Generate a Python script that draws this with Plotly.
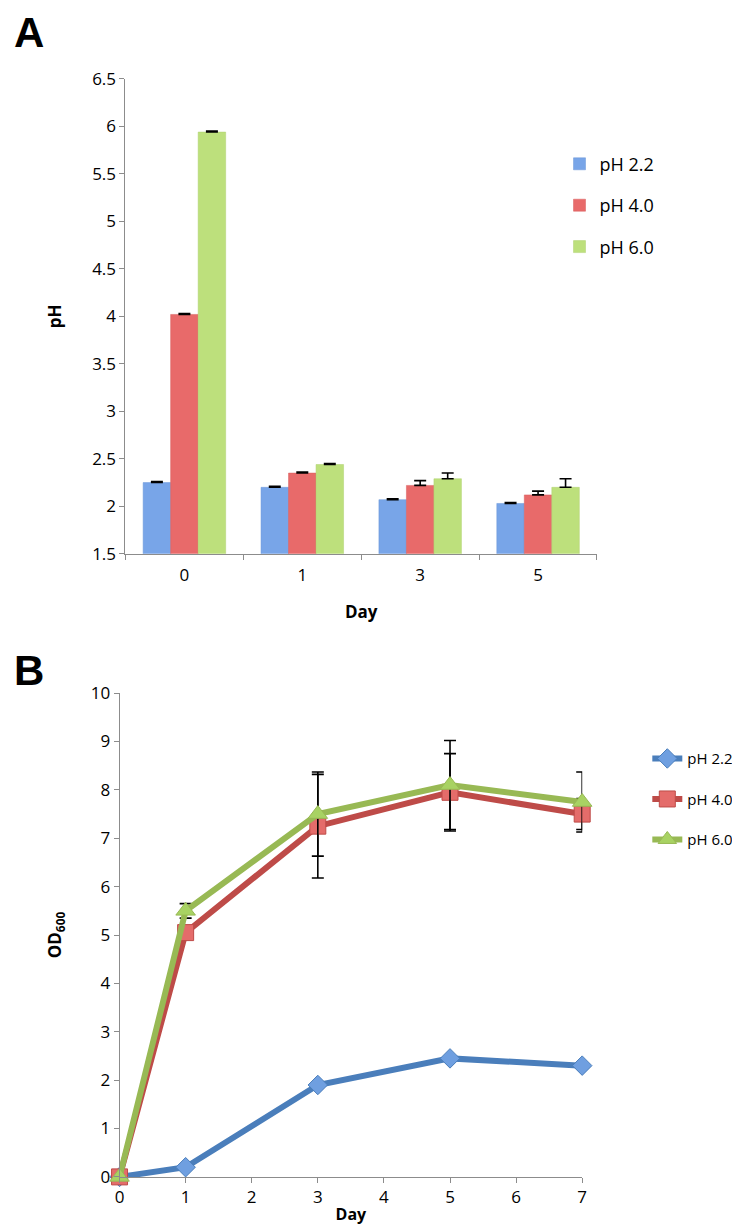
import plotly.graph_objects as go

# ---------------- Data ----------------
days_a = ["0", "1", "3", "5"]
ph22_a = [2.25, 2.20, 2.07, 2.03]
ph40_a = [4.02, 2.35, 2.22, 2.12]
ph60_a = [5.94, 2.44, 2.29, 2.20]
err22_a = [0.01, 0.01, 0.01, 0.01]
err40_a = [0.01, 0.01, 0.05, 0.04]
err60_a = [0.01, 0.01, 0.06, 0.09]

days_b = [0, 1, 3, 5, 7]
ph22_b = [0.0, 0.2, 1.9, 2.45, 2.3]
ph40_b = [0.0, 5.05, 7.25, 7.95, 7.5]
ph60_b = [0.0, 5.5, 7.5, 8.1, 7.75]
err40_b = [0.0, 0.1, 1.07, 0.8, 0.32]
err60_b = [0.0, 0.15, 0.87, 0.92, 0.62]

series_names = ["pH 2.2", "pH 4.0", "pH 6.0"]
bar_colors = ["#78a5e8", "#e86a6a", "#bde07c"]
bar_lines = ["#6b97d8", "#d85c5c", "#aed06e"]
line_colors = ["#4a7ebb", "#be4b48", "#98b954"]
marker_colors = ["#6f9fe0", "#e46c6a", "#a8d263"]

W, H = 740, 1227
FONT = "Open Sans"

def px(xp):
    return xp / W

def py(yp):
    return 1 - yp / H

fig = go.Figure()

# ---------------- Panel A (bars) ----------------
for name, vals, errs, col, lc in zip(series_names, [ph22_a, ph40_a, ph60_a],
                                     [err22_a, err40_a, err60_a], bar_colors, bar_lines):
    fig.add_trace(go.Bar(
        x=days_a, y=vals, name=name, xaxis="x", yaxis="y",
        marker=dict(color=col, line=dict(color=lc, width=0.5)),
        error_y=dict(type="data", array=errs, arrayminus=[0] * len(errs), symmetric=False,
                     color="black", thickness=1.6, width=6),
        legend="legend", legendgroup=name,
    ))

# ---------------- Panel B (lines) ----------------
symbols = ["diamond", "square", "triangle-up"]
msizes = [15, 16, 17]
errs_b = [None, err40_b, err60_b]
for name, vals, errs, lc, mc, sym, ms in zip(series_names, [ph22_b, ph40_b, ph60_b],
                                             errs_b, line_colors, marker_colors, symbols, msizes):
    tr = dict(
        x=days_b, y=vals, name=name, xaxis="x2", yaxis="y2", mode="lines+markers",
        line=dict(color=lc, width=6),
        marker=dict(symbol=sym, size=ms, color=mc, line=dict(color=lc, width=1)),
        cliponaxis=False, legend="legend2", legendgroup=name + "b",
    )
    if errs is not None:
        tr["error_y"] = dict(type="data", array=errs, visible=True, color="black",
                             thickness=1.6, width=6)
    fig.add_trace(go.Scatter(**tr))

axis_common = dict(
    showline=True, linecolor="#8c8c8c", linewidth=1, ticks="outside", tickcolor="#8c8c8c",
    ticklen=5, showgrid=False, zeroline=False,
    tickfont=dict(family=FONT, size=17, color="black"),
)
title_font = dict(family=FONT, size=17, color="black")

fig.update_layout(
    width=W, height=H, margin=dict(l=0, r=0, t=0, b=0),
    paper_bgcolor="white", plot_bgcolor="white",
    barmode="group", bargap=0.3, bargroupgap=0.0,
    font=dict(family=FONT, color="black"),
    xaxis=dict(domain=[px(114), px(592)], anchor="y", type="category", tickson="boundaries",
               ticklabelstandoff=6,
               title=dict(text="<b>Day</b>", font=title_font, standoff=20),
               **axis_common),
    yaxis=dict(domain=[py(544), py(60)], anchor="x", range=[1.5, 6.5], dtick=0.5,
               title=dict(text="<b>pH</b>", font=title_font, standoff=26),
               **axis_common),
    xaxis2=dict(domain=[px(108), px(577)], anchor="y2", range=[0, 7], dtick=1,
                title=dict(text="<b>Day</b>", font=dict(family=FONT, size=16, color="black"),
                           standoff=1),
                **axis_common),
    yaxis2=dict(domain=[py(1179), py(686)], anchor="x2", range=[0, 10], dtick=1,
                title=dict(text="<b>OD<sub>600</sub></b>", font=title_font, standoff=24),
                **axis_common),
    legend=dict(x=px(554), y=py(128), xanchor="left", yanchor="top",
                font=dict(family=FONT, size=18, color="black"),
                tracegroupgap=15, itemwidth=30, bgcolor="rgba(0,0,0,0)"),
    legend2=dict(x=px(643), y=py(736), xanchor="left", yanchor="top",
                 font=dict(family=FONT, size=15, color="black"),
                 tracegroupgap=18, itemwidth=30, bgcolor="rgba(0,0,0,0)"),
    showlegend=True,
    annotations=[
        dict(text="<b>A</b>", x=0, y=py(-12), xref="paper", yref="paper",
             xanchor="left", yanchor="top", showarrow=False, borderpad=0,
             font=dict(family="Liberation Sans", size=42, color="black")),
        dict(text="<b>B</b>", x=0, y=py(638), xref="paper", yref="paper",
             xanchor="left", yanchor="top", showarrow=False, borderpad=0,
             font=dict(family="Liberation Sans", size=42, color="black")),
    ],
)

fig.write_html("out.html")
